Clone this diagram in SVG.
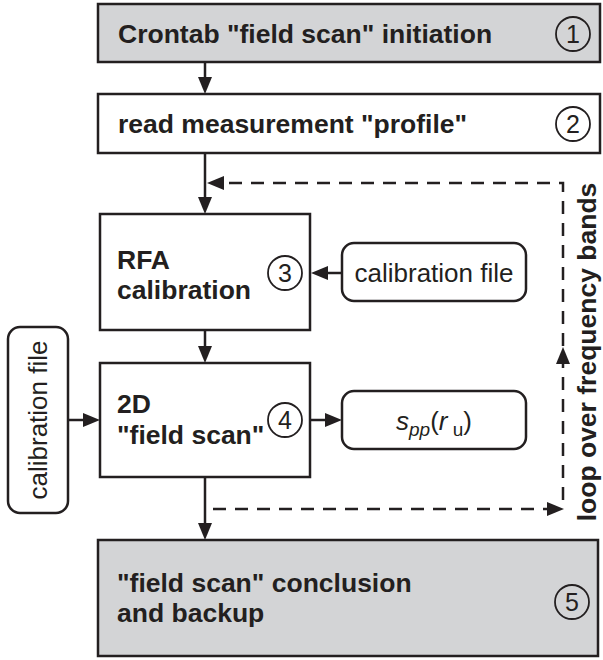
<svg xmlns="http://www.w3.org/2000/svg" width="603" height="660" viewBox="0 0 603 660">
<style>
.box{fill:#ffffff;stroke:#231f20;stroke-width:2.5}
.gray{fill:#d3d4d6}
.ln{fill:none;stroke:#231f20;stroke-width:2.5}
.dash{fill:none;stroke:#231f20;stroke-width:2.5;stroke-dasharray:13 9}
.num{fill:none;stroke:#231f20;stroke-width:1.8}
.b{font-family:"Liberation Sans",Arial,Helvetica,sans-serif;font-weight:bold;font-size:26.5px;fill:#231f20}
.r{font-family:"Liberation Sans",Arial,Helvetica,sans-serif;font-size:26px;fill:#231f20}
.n{font-family:"Liberation Sans",Arial,Helvetica,sans-serif;font-size:25px;fill:#231f20;text-anchor:middle}
</style>
<defs>
<marker id="ah" markerUnits="userSpaceOnUse" markerWidth="17" markerHeight="14" refX="1" refY="7" orient="auto" viewBox="0 0 17 14">
<path d="M0,0 L17,7 L0,14 z" fill="#231f20"/>
</marker>
</defs>
<g id="connectors">
<line class="ln" x1="205" y1="62" x2="205" y2="78" marker-end="url(#ah)"/>
<line class="ln" x1="205" y1="153" x2="205" y2="198" marker-end="url(#ah)"/>
<line class="ln" x1="205" y1="330" x2="205" y2="347" marker-end="url(#ah)"/>
<line class="ln" x1="205" y1="477" x2="205" y2="524" marker-end="url(#ah)"/>
<line class="ln" x1="342" y1="273" x2="327" y2="273" marker-end="url(#ah)"/>
<line class="ln" x1="68" y1="420" x2="84" y2="420" marker-end="url(#ah)"/>
<line class="ln" x1="310" y1="420" x2="326" y2="420" marker-end="url(#ah)"/>
<path class="dash" d="M563,500 L563,183 L223,183" marker-end="url(#ah)"/>
<path class="dash" d="M213,509 L548,509" marker-end="url(#ah)"/>
<polygon points="563,347 556,364 570,364" fill="#231f20"/>
</g>
<g id="node1">
<rect class="box gray" x="98" y="4" width="502" height="58"/>
<text class="b" x="118" y="43">Crontab "field scan" initiation</text>
<circle class="num" cx="573" cy="34" r="17"/>
<text class="n" x="573" y="43">1</text>
</g>
<g id="node2">
<rect class="box" x="98" y="94" width="502" height="59"/>
<text class="b" x="118" y="133">read measurement "profile"</text>
<circle class="num" cx="573" cy="124" r="17"/>
<text class="n" x="573" y="133">2</text>
</g>
<g id="node3">
<rect class="box" x="100" y="214" width="210" height="116"/>
<text class="b" x="117" y="269">RFA</text>
<text class="b" x="117" y="299">calibration</text>
<circle class="num" cx="285" cy="273" r="17"/>
<text class="n" x="285" y="282">3</text>
</g>
<g id="calfile1">
<rect class="box" x="342" y="243" width="184" height="58" rx="12"/>
<text class="r" x="434" y="282" text-anchor="middle">calibration file</text>
</g>
<g id="node4">
<rect class="box" x="100" y="363" width="210" height="114"/>
<text class="b" x="117" y="413">2D</text>
<text class="b" x="117" y="444">"field scan"</text>
<circle class="num" cx="285" cy="420" r="17"/>
<text class="n" x="285" y="429">4</text>
</g>
<g id="calfile2">
<rect class="box" x="8" y="327" width="60" height="186" rx="12"/>
<text class="r" transform="translate(47,420) rotate(-90)" text-anchor="middle">calibration file</text>
</g>
<g id="spp">
<rect class="box" x="342" y="391" width="184" height="58" rx="12"/>
<text class="r" x="434" y="430" text-anchor="middle" font-size="30"><tspan font-style="italic">s</tspan><tspan font-style="italic" font-size="19" dy="6">pp</tspan><tspan dy="-6">(</tspan><tspan font-style="italic">r</tspan><tspan font-size="19" dy="6"> u</tspan><tspan dy="-6">)</tspan></text>
</g>
<g id="node5">
<rect class="box gray" x="98" y="540" width="500" height="116"/>
<text class="b" x="117" y="592">"field scan" conclusion</text>
<text class="b" x="117" y="622">and backup</text>
<circle class="num" cx="572" cy="602" r="17"/>
<text class="n" x="572" y="611">5</text>
</g>
<g id="looplabel">
<text class="b" transform="translate(596,352) rotate(-90)" text-anchor="middle" font-size="27">loop over frequency bands</text>
</g>
</svg>
